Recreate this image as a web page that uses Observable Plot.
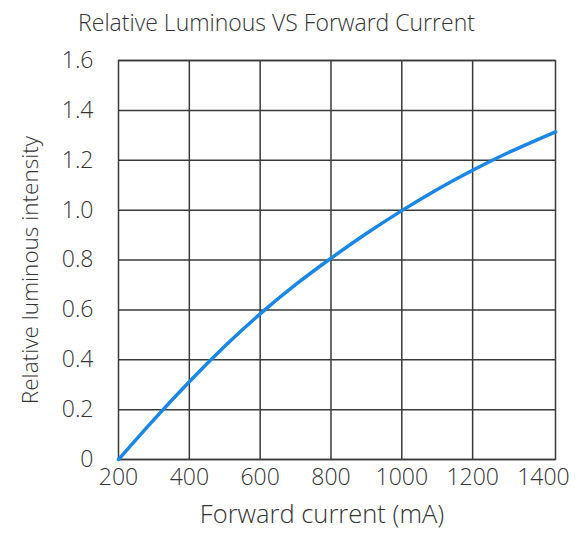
<!DOCTYPE html>
<html>
<head>
<meta charset="utf-8">
<script src="https://cdn.jsdelivr.net/npm/d3@7"></script>
<script src="https://cdn.jsdelivr.net/npm/@observablehq/plot@0.6"></script>
<style>
  html, body { margin: 0; padding: 0; background: #fff; }
  #title { width: 577px; height: 45px; text-align: center; font-family: "Open Sans", sans-serif; font-weight: 300; font-size: 23px; color: #333; line-height: 45px; padding-right: 24px; box-sizing: border-box; }
</style>
</head>
<body>
<div id="title">Relative Luminous VS Forward Current</div>
<div id="chart"></div>
<script>
const current = [200, 300, 400, 500, 600, 700, 800, 900, 1000, 1100, 1200, 1300, 1400, 1434];
const intensity = [0, 0.16, 0.312, 0.454, 0.584, 0.701, 0.807, 0.906, 0.998, 1.083, 1.16, 1.23, 1.293, 1.314];
const xTicks = [200, 400, 600, 800, 1000, 1200, 1400];
const xGrid = [400, 600, 800, 1000, 1200];
const yTicks = [0, 0.2, 0.4, 0.6, 0.8, 1.0, 1.2, 1.4, 1.6];
const xLabel = "Forward current (mA)";
const yLabel = "Relative luminous intensity";

const data = current.map((c, i) => ({c, v: intensity[i]}));
const gridColor = "#3a3a3a";

const chart = Plot.plot({
  width: 577,
  height: 493,
  marginTop: 15,
  marginLeft: 118,
  marginRight: 22,
  marginBottom: 79,
  style: {fontFamily: "'Open Sans', sans-serif", fontWeight: 300, color: "#333", background: "#fff", overflow: "visible"},
  x: {domain: [200, 1434]},
  y: {domain: [0, 1.6]},
  marks: [
    Plot.gridX(xGrid, {stroke: gridColor, strokeOpacity: 1, strokeWidth: 1.5}),
    Plot.gridY(yTicks, {stroke: gridColor, strokeOpacity: 1, strokeWidth: 1.5}),
    Plot.frame({stroke: gridColor, strokeWidth: 1.5}),
    Plot.line(data, {x: "c", y: "v", curve: "natural", stroke: "#1a87e6", strokeWidth: 3.5}),
    Plot.axisX(xTicks, {tickSize: 0, tickPadding: 9, fontSize: 23, label: null, fill: "#333",
      tickFormat: d => String(d)}),
    Plot.axisY(yTicks, {tickSize: 0, tickPadding: 25, fontSize: 23, label: null, fill: "#333",
      tickFormat: d => d === 0 ? "0" : d.toFixed(1)}),
    Plot.text([xLabel], {frameAnchor: "bottom", dy: 63, dx: -15, fontSize: 25.5, fill: "#333"}),
    Plot.text([yLabel], {frameAnchor: "left", textAnchor: "middle", rotate: -90, dx: -88, dy: 10, fontSize: 22.5, fill: "#333"})
  ]
});
document.getElementById("chart").appendChild(chart);
</script>
</body>
</html>
